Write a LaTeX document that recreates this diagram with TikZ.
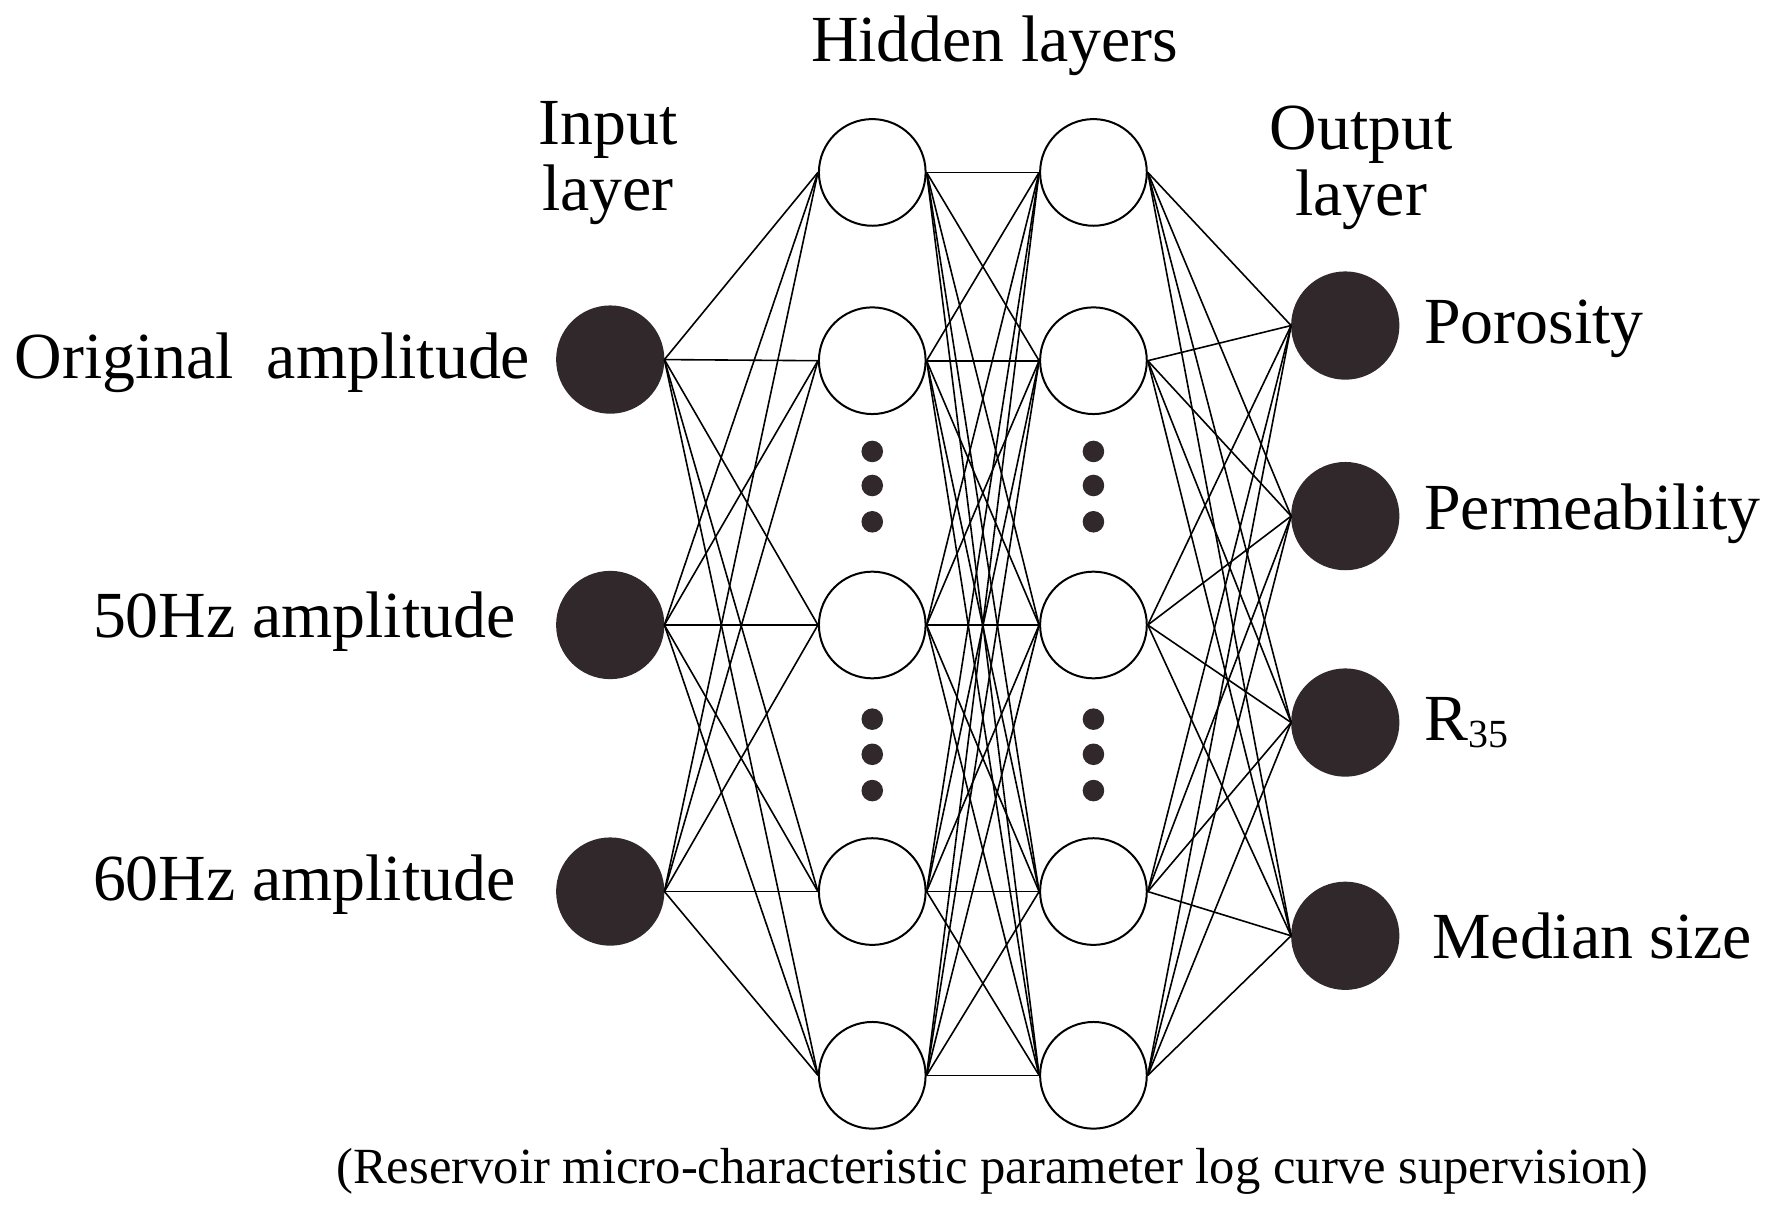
\documentclass[tikz,border=0pt]{standalone}
\usepackage{fontspec}
\setmainfont{Liberation Serif}
\definecolor{dk}{HTML}{30282A}
\begin{document}
\begin{tikzpicture}[x=0.01cm,y=-0.01cm,
  full/.style={circle,fill=dk,draw=dk,minimum size=0.94cm,inner sep=0},
  hid/.style={circle,fill=white,draw=black,line width=0.5pt,minimum size=0.94cm,inner sep=0},
  dot/.style={circle,fill=dk,minimum size=0.19cm,inner sep=0},
  lk/.style={line width=0.4pt},
  lab/.style={font=\fontsize{16.5}{19}\selectfont,inner sep=0},
  ttl/.style={font=\fontsize{16.5}{16.5}\selectfont,align=center,inner sep=0}]
\useasboundingbox (0,0) rectangle (1564,1066);
\foreach \i/\y in {1/317,2/551,3/786} \node[full] (i\i) at (538,\y) {};
\foreach \i/\y in {1/152,2/318,3/551,4/786,5/948} {
  \node[hid] (a\i) at (769,\y) {};
  \node[hid] (b\i) at (964,\y) {};}
\foreach \i/\y in {1/287,2/455,3/637,4/825} \node[full] (o\i) at (1186,\y) {};
\foreach \i in {1,2,3} \foreach \j in {1,...,5} \draw[lk] (i\i.east) -- (a\j.west);
\foreach \i in {1,...,5} \foreach \j in {1,...,5} \draw[lk] (a\i.east) -- (b\j.west);
\foreach \i in {1,...,5} \foreach \j in {1,...,4} \draw[lk] (b\i.east) -- (o\j.west);
\foreach \x/\n in {769/c,964/d} \foreach \y/\k in {398/1,428/2,460/3,634/4,665/5,697/6}
  \node[dot] (\n\k) at (\x,\y) {};
\node[ttl] (th) at (877,40) {Hidden layers};
\node[ttl] (ti) at (536,144) {Input\\layer};
\node[ttl] (to) at (1200,148) {Output\\layer};
\node[lab,anchor=east] (l1) at (468,320) {Original\ \ amplitude};
\node[lab,anchor=east] (l2) at (455,548) {50Hz amplitude};
\node[lab,anchor=east] (l3) at (455,780) {60Hz amplitude};
\node[lab,anchor=west] (r1) at (1255,290) {Porosity};
\node[lab,anchor=west] (r2) at (1255,453) {Permeability};
\node[lab,anchor=west] (r3) at (1255,637) {R{\fontsize{10}{12}\selectfont\raisebox{-0.35ex}{35}}};
\node[lab,anchor=west] (r4) at (1262,825) {Median size};
\node[font=\fontsize{12.7}{15}\selectfont,inner sep=0] (bt) at (875,1033) {(Reservoir micro-characteristic parameter log curve supervision)};
\end{tikzpicture}
\end{document}
